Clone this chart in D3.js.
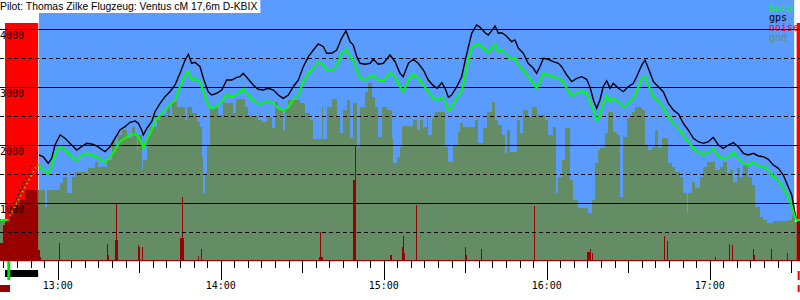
<!DOCTYPE html>
<html>
<head>
<meta charset="utf-8">
<script src="https://cdn.jsdelivr.net/npm/d3@7"></script>
<style>
body { margin: 0; background: #fff; }
svg { display: block; }
</style>
</head>
<body>
<div class="barogram"></div>
<script>
// times are minutes after 12:00
var times = [
  38.8, 41.5, 52.4, 53.1, 54.7, 56.5, 57.8, 59.0, 60.9, 62.7,
  64.5, 67.0, 68.8, 70.7, 72.5, 74.4, 75.6, 77.4, 79.3, 81.1,
  82.9, 84.8, 86.6, 88.5, 89.7, 90.9, 91.5, 92.8, 94.6, 95.8,
  97.7, 99.5, 101.3, 103.2, 105.0, 106.9, 108.1, 109.3, 110.5, 112.4,
  113.6, 115.4, 116.7, 118.5, 120.4, 122.2, 124.1, 125.9, 127.1, 128.3,
  130.2, 132.0, 133.8, 135.7, 137.5, 139.4, 141.2, 143.0, 144.9, 146.7,
  148.6, 150.4, 152.3, 154.1, 155.9, 157.8, 159.0, 160.9, 162.7, 164.5,
  166.1, 167.6, 168.8, 170.1, 171.3, 173.1, 175.0, 176.2, 178.0, 179.9,
  182.3, 184.2, 186.0, 187.2, 189.1, 190.9, 192.7, 194.6, 196.4, 198.3,
  199.7, 201.4, 202.6, 203.8, 205.0, 206.9, 208.7, 209.9, 211.2, 212.4,
  214.2, 215.5, 217.3, 218.5, 219.8, 221.0, 222.2, 223.4, 224.7, 225.9,
  227.1, 228.3, 229.6, 231.4, 233.2, 235.1, 236.3, 237.5, 238.8, 240.6,
  242.4, 244.3, 245.5, 247.4, 249.2, 251.1, 252.9, 254.7, 255.9, 257.2,
  258.4, 259.6, 260.8, 262.1, 263.3, 264.5, 266.4, 268.2, 270.0, 271.9,
  273.1, 275.0, 276.2, 277.4, 279.3, 281.1, 282.9, 284.8, 286.6, 288.5,
  290.3, 292.1, 294.0, 295.8, 297.7, 299.5, 301.3, 303.2, 305.0, 306.9,
  308.7, 310.5, 312.4, 314.2, 316.1, 317.9, 319.7, 321.6, 323.4, 325.3,
  327.1, 328.9, 330.2, 331.4, 332.0, 333.3
];
var gpsAlt = [
  712, 712, 1867, 1833, 1803, 1690, 1776, 2005, 2178, 2121,
  2034, 1919, 1976, 2034, 2022, 1988, 1948, 1890, 1976, 2121,
  2264, 2321, 2397, 2419, 2379, 2264, 2178, 2293, 2407, 2579,
  2724, 2838, 2924, 3040, 3241, 3471, 3569, 3414, 3431, 3355,
  3155, 2924, 2867, 2897, 2953, 3126, 3126, 3172, 3183, 3241,
  3138, 3040, 2966, 2953, 2983, 2953, 2867, 2810, 2867, 3010,
  3126, 3355, 3528, 3643, 3747, 3700, 3586, 3586, 3643, 3845,
  3976, 3786, 3729, 3528, 3414, 3397, 3414, 3483, 3397, 3414,
  3557, 3441, 3241, 3183, 3414, 3483, 3414, 3298, 3126, 3028,
  2983, 3079, 2983, 2828, 2867, 3010, 3183, 3441, 3700, 3931,
  4074, 4034, 3941, 3902, 3976, 4057, 3931, 3941, 3902, 3845,
  3786, 3816, 3672, 3586, 3414, 3328, 3241, 3355, 3500, 3483,
  3441, 3414, 3355, 3212, 3097, 3155, 3183, 3138, 3010, 2781,
  2638, 2781, 3010, 3114, 2983, 3069, 2983, 2924, 3010, 3069,
  3183, 3384, 3471, 3328, 3097, 3010, 2924, 2724, 2609, 2540,
  2379, 2264, 2121, 2062, 2034, 2062, 2138, 2005, 1948, 2005,
  2045, 1976, 1862, 1833, 1862, 1816, 1803, 1759, 1660, 1603,
  1488, 1286, 1143, 828, 712, 712
];
var baroAlt = [
  712, 712, 1660, 1660, 1574, 1517, 1631, 1833, 1976, 1919,
  1833, 1734, 1833, 1862, 1833, 1803, 1759, 1700, 1803, 1919,
  2062, 2121, 2178, 2190, 2148, 2034, 1948, 2091, 2264, 2407,
  2522, 2609, 2695, 2781, 3010, 3212, 3269, 3126, 3155, 3097,
  2924, 2695, 2638, 2666, 2752, 2867, 2838, 2884, 2924, 2971,
  2867, 2781, 2712, 2724, 2764, 2724, 2638, 2597, 2655, 2781,
  2867, 3097, 3241, 3328, 3441, 3384, 3298, 3298, 3355, 3586,
  3655, 3528, 3471, 3298, 3155, 3126, 3183, 3212, 3126, 3114,
  3252, 3183, 3010, 2924, 3126, 3224, 3155, 3040, 2924, 2810,
  2781, 2828, 2752, 2597, 2655, 2810, 2941, 3183, 3471, 3672,
  3747, 3729, 3643, 3603, 3672, 3747, 3614, 3655, 3586, 3528,
  3483, 3517, 3384, 3298, 3183, 3069, 2983, 3097, 3241, 3212,
  3183, 3155, 3126, 2983, 2850, 2907, 2936, 2897, 2752, 2609,
  2436, 2522, 2724, 2850, 2752, 2810, 2752, 2655, 2724, 2810,
  2924, 3155, 3195, 3040, 2838, 2752, 2655, 2493, 2379, 2293,
  2178, 2062, 1948, 1872, 1845, 1872, 1948, 1816, 1759, 1803,
  1872, 1776, 1690, 1660, 1717, 1643, 1631, 1574, 1459, 1402,
  1259, 1114, 941, 769, 712, 712
];

var gndTimes = [
  38.8, 52.9, 55.3, 56.0, 60.9, 62.1, 63.3, 65.2, 66.4, 70.7,
  71.3, 73.7, 75.0, 78.0, 79.9, 81.1, 82.3, 83.6, 85.4, 87.2,
  88.5, 89.1, 89.7, 90.9, 91.5, 92.8, 94.0, 96.4, 97.7, 100.1,
  101.3, 102.0, 103.8, 106.9, 107.5, 109.3, 111.2, 112.4, 113.0, 113.6,
  114.2, 114.9, 116.1, 117.9, 119.1, 121.0, 121.6, 124.6, 125.6, 128.9,
  130.2, 131.4, 133.8, 135.1, 136.9, 138.8, 140.0, 141.2, 143.0, 143.7,
  144.9, 149.2, 151.0, 152.9, 154.1, 157.2, 157.8, 159.0, 160.9, 162.7,
  163.9, 165.1, 166.4, 167.6, 168.8, 170.1, 171.3, 173.1, 174.3, 175.6,
  176.8, 178.0, 179.3, 181.1, 182.9, 183.5, 184.8, 186.0, 186.6, 190.9,
  192.1, 193.4, 194.6, 195.8, 196.4, 197.7, 198.9, 202.6, 203.8, 205.6,
  207.5, 208.1, 209.3, 213.6, 214.8, 216.7, 217.9, 219.8, 221.0, 222.2,
  223.4, 224.7, 225.3, 226.5, 229.0, 230.2, 231.4, 233.2, 234.5, 236.3,
  239.4, 240.6, 242.4, 243.4, 244.3, 245.5, 246.7, 248.6, 249.8, 251.6,
  255.3, 256.6, 257.8, 259.0, 259.6, 261.5, 262.7, 264.5, 265.8, 267.0,
  268.2, 269.5, 271.3, 272.5, 275.0, 276.2, 277.4, 278.7, 279.9, 281.1,
  282.3, 284.8, 286.0, 287.2, 289.1, 290.3, 291.5, 292.1, 293.4, 294.6,
  296.4, 297.7, 298.9, 302.0, 303.8, 305.0, 306.3, 307.5, 308.7, 309.9,
  311.2, 312.4, 314.2, 315.5, 316.7, 318.5, 319.7, 321.0, 323.4, 328.3,
  330.2, 331.4, 333.3
];
var gndAlt = [
  712, 1229, 941, 1229, 1345, 1459, 1178, 1459, 1545, 1459,
  1603, 1717, 1631, 1747, 2091, 1976, 2178, 2264, 2121, 2321,
  2207, 1919, 2178, 1574, 1747, 2178, 2321, 2436, 2522, 2666,
  2493, 2752, 2666, 2436, 2655, 2552, 2407, 2321, 1803, 1172,
  1517, 2005, 2621, 2655, 2522, 2752, 2724, 2552, 2793, 2655,
  2522, 2505, 2436, 2407, 2493, 2293, 2752, 2621, 2264, 2638,
  2781, 2724, 2552, 2436, 2103, 2666, 2103, 2655, 2793, 2493,
  2207, 2609, 2781, 2121, 2724, 1976, 2666, 2924, 3069, 2838,
  2666, 2148, 2655, 2609, 2121, 1690, 1803, 1976, 2336, 2436,
  2264, 2436, 2321, 2466, 2178, 2466, 2579, 1976, 1717, 2005,
  2234, 2379, 2321, 2436, 2034, 2293, 2579, 2752, 2436, 2350,
  2178, 1867, 2264, 1890, 2436, 2207, 2609, 2493, 2655, 2522,
  2436, 2178, 2321, 1172, 1459, 1747, 2293, 1402, 1057, 914,
  828, 1057, 1690, 1919, 1948, 2207, 2579, 2234, 2178, 1114,
  2148, 2466, 2579, 2655, 2609, 2005, 1919, 1976, 2264, 1948,
  2121, 1690, 1631, 1545, 1459, 1172, 833, 1172, 1372, 1259,
  1459, 1631, 1717, 1574, 1631, 1717, 1517, 1574, 1372, 1603,
  1459, 1660, 1459, 1316, 941, 769, 712, 666, 700, 712,
  798, 683, 683
];

var noiseTimes = [
  38.8, 39.9, 40.6, 42.4, 43.6, 45.0, 46.1, 48.0, 52.4, 52.8,
  53.3, 53.9, 60.6, 61.0, 78.2, 78.5, 78.9, 81.0, 81.4, 81.7,
  82.3, 89.5, 89.9, 90.3, 90.9, 91.3, 105.1, 105.9, 106.2, 106.5,
  111.6, 112.0, 112.9, 113.2, 156.2, 156.6, 156.9, 157.6, 168.6, 169.4,
  169.7, 182.3, 183.1, 186.6, 187.0, 187.4, 187.8, 192.0, 192.4, 210.0,
  210.4, 210.7, 215.9, 216.3, 235.4, 235.8, 255.0, 256.0, 256.4, 256.8,
  257.2, 283.3, 283.7, 284.4, 284.8, 302.0, 302.3, 307.0, 307.4, 308.3,
  308.7, 316.1, 316.4, 316.8, 322.6, 322.9, 328.3, 328.8, 332.0, 333.3
];
var noiseLevel = [
  316, 626, 686, 798, 919, 971, 1057, 1229, 971, 195,
  74, 25, 321, 25, 298, 108, 25, 367, 1000, 367,
  25, 286, 247, 25, 247, 25, 402, 1114, 402, 25,
  91, 25, 212, 25, 79, 500, 79, 25, 1402, 1988,
  25, 108, 25, 252, 436, 143, 25, 971, 25, 241,
  108, 25, 212, 25, 953, 25, 155, 207, 25, 143,
  25, 436, 25, 355, 25, 74, 25, 298, 25, 281,
  25, 212, 108, 25, 212, 25, 143, 25, 712, 712
];

var motorRuns = [[40.6, 52.8], [332.0, 333.3]];
var flightSpan = [53.1, 331.1];
var takeoff = 42.0;
var gridSolid = [1000, 2000, 3000, 4000];
var gridDashed = [500, 1500, 2500, 3500];
var legendNames = ["baro", "gps", "noise", "gnd"];
var title = "Pilot: Thomas Zilke Flugzeug: Ventus cM 17,6m D-KBIX";

var width = 800, height = 300;
var skyColor = "#599bff", gndColor = "#658d65", noiseColor = "#990000";
var legendColor = d3.scaleOrdinal()
    .domain(legendNames)
    .range(["#00ff00", "#000000", "#ff0000", gndColor]);

var x = d3.scaleLinear().domain([38.76, 333.24]).range([0, width]);
var y = d3.scaleLinear().domain([0, 4500]).range([261.3, 0.3]);

var svg = d3.select(".barogram")
    .append("svg")
    .attr("width", width)
    .attr("height", height)
    .style("font-family", "'DejaVu Sans Mono', monospace")
    .style("font-size", "10px");

svg.append("rect")
    .attr("x", x(flightSpan[0]))
    .attr("y", 0)
    .attr("width", x(flightSpan[1]) - x(flightSpan[0]))
    .attr("height", y(0))
    .attr("fill", skyColor);

var gnd = gndTimes.map(function(t, i) { return {t: t, v: gndAlt[i]}; });
svg.append("path")
    .datum(gnd)
    .attr("fill", gndColor)
    .attr("shape-rendering", "crispEdges")
    .attr("d", d3.area()
        .curve(d3.curveStepAfter)
        .x(function(d) { return x(d.t); })
        .y0(y(0))
        .y1(function(d) { return y(d.v); }));

svg.selectAll(".motor")
    .data(motorRuns)
    .enter()
    .append("rect")
    .attr("class", "motor")
    .attr("x", function(d) { return x(d[0]); })
    .attr("y", 23)
    .attr("width", function(d) { return x(d[1]) - x(d[0]); })
    .attr("height", y(0) - 23)
    .attr("fill", "#ff0000");

var noise = noiseTimes.map(function(t, i) { return {t: t, v: noiseLevel[i]}; });
svg.append("path")
    .datum(noise)
    .attr("fill", noiseColor)
    .attr("shape-rendering", "crispEdges")
    .attr("d", d3.area()
        .curve(d3.curveStepAfter)
        .x(function(d) { return x(d.t); })
        .y0(y(0))
        .y1(function(d) { return y(d.v); }));

// grid
svg.selectAll(".grid")
    .data(gridSolid.concat(gridDashed))
    .enter()
    .append("line")
    .attr("class", "grid")
    .attr("x1", 0)
    .attr("x2", width)
    .attr("y1", function(d) { return Math.round(y(d)) + 0.5; })
    .attr("y2", function(d) { return Math.round(y(d)) + 0.5; })
    .attr("stroke", "#000")
    .attr("stroke-width", 1)
    .attr("stroke-dasharray", function(d) { return d % 1000 ? "4,3" : null; });

svg.selectAll(".ylabel")
    .data(gridSolid)
    .enter()
    .append("text")
    .attr("class", "ylabel")
    .attr("x", 0)
    .attr("y", function(d) { return y(d) + 10; })
    .text(function(d) { return d; });

// gps and baro lines, dotted while the motor runs
function drawTrack(values, color, w) {
    var pts = times.map(function(t, i) { return {t: t, v: values[i]}; });
    var line = d3.line()
        .x(function(d) { return x(d.t); })
        .y(function(d) { return y(d.v); });
    svg.append("path")
        .datum(pts.filter(function(d) { return d.t >= 41.5 && d.t <= 53.1; }))
        .attr("fill", "none")
        .attr("stroke", color)
        .attr("stroke-width", w)
        .attr("stroke-dasharray", "1.5,3")
        .attr("d", line);
    svg.append("path")
        .datum(pts)
        .attr("fill", "none")
        .attr("stroke", color)
        .attr("stroke-width", w)
        .attr("d", line.defined(function(d) { return !(d.t > 41.5 && d.t < 53.1); }));
}
drawTrack(gpsAlt, "#000", 1.4);
drawTrack(baroAlt, "#00ff00", 2);

// legend
svg.selectAll(".legend")
    .data(legendNames)
    .enter()
    .append("text")
    .attr("class", "legend")
    .attr("x", 769)
    .attr("y", function(d, i) { return 10.5 + 10 * i; })
    .attr("fill", function(d) { return legendColor(d); })
    .text(function(d) { return d; });

// title
var titleText = svg.append("text")
    .attr("x", 0)
    .attr("y", 10)
    .style("font-family", "'Liberation Sans', Arial, sans-serif")
    .style("font-size", "10.4px")
    .text(title);
svg.insert("rect", "text")
    .attr("x", 0)
    .attr("y", 0)
    .attr("width", titleText.node().getComputedTextLength() + 3)
    .attr("height", 13)
    .attr("fill", "#fff");

// time axis: every 5 minutes, longer at half and full hours
var axisY = Math.round(y(0));
var tickMinutes = d3.range(40, 334, 5);
function tickLen(m) { return m % 60 === 0 ? 19 : (m % 30 === 0 ? 12 : 7); }

svg.selectAll(".xtick")
    .data(tickMinutes)
    .enter()
    .append("line")
    .attr("class", "xtick")
    .attr("x1", function(d) { return Math.round(x(d)) + 0.5; })
    .attr("x2", function(d) { return Math.round(x(d)) + 0.5; })
    .attr("y1", axisY)
    .attr("y2", function(d) { return axisY + tickLen(d); })
    .attr("stroke", "#000")
    .attr("stroke-width", 1);

svg.selectAll(".xlabel")
    .data(tickMinutes.filter(function(m) { return m % 60 === 0; }))
    .enter()
    .append("text")
    .attr("class", "xlabel")
    .attr("x", function(d) { return x(d); })
    .attr("y", 289)
    .attr("text-anchor", "middle")
    .attr("fill", "#000")
    .text(function(d) { return (12 + d / 60) + ":00"; });

// markers under the axis
svg.append("rect")
    .attr("x", x(motorRuns[0][0]))
    .attr("y", 270)
    .attr("width", x(motorRuns[0][1]) - x(motorRuns[0][0]))
    .attr("height", 7)
    .attr("fill", "#000");
svg.append("rect")
    .attr("x", x(motorRuns[1][0]) + 1)
    .attr("y", 271)
    .attr("width", 2)
    .attr("height", 9)
    .attr("fill", "#ff0000");
svg.append("rect")
    .attr("x", x(takeoff) - 1.5)
    .attr("y", axisY)
    .attr("width", 3)
    .attr("height", 19)
    .attr("fill", "#00dd00");
svg.append("rect")
    .attr("x", 0)
    .attr("y", 285)
    .attr("width", 10)
    .attr("height", 7)
    .attr("fill", noiseColor);
svg.append("rect")
    .attr("x", x(motorRuns[1][0]) + 1)
    .attr("y", 285)
    .attr("width", 2)
    .attr("height", 7)
    .attr("fill", "#ff0000");
</script>
</body>
</html>
